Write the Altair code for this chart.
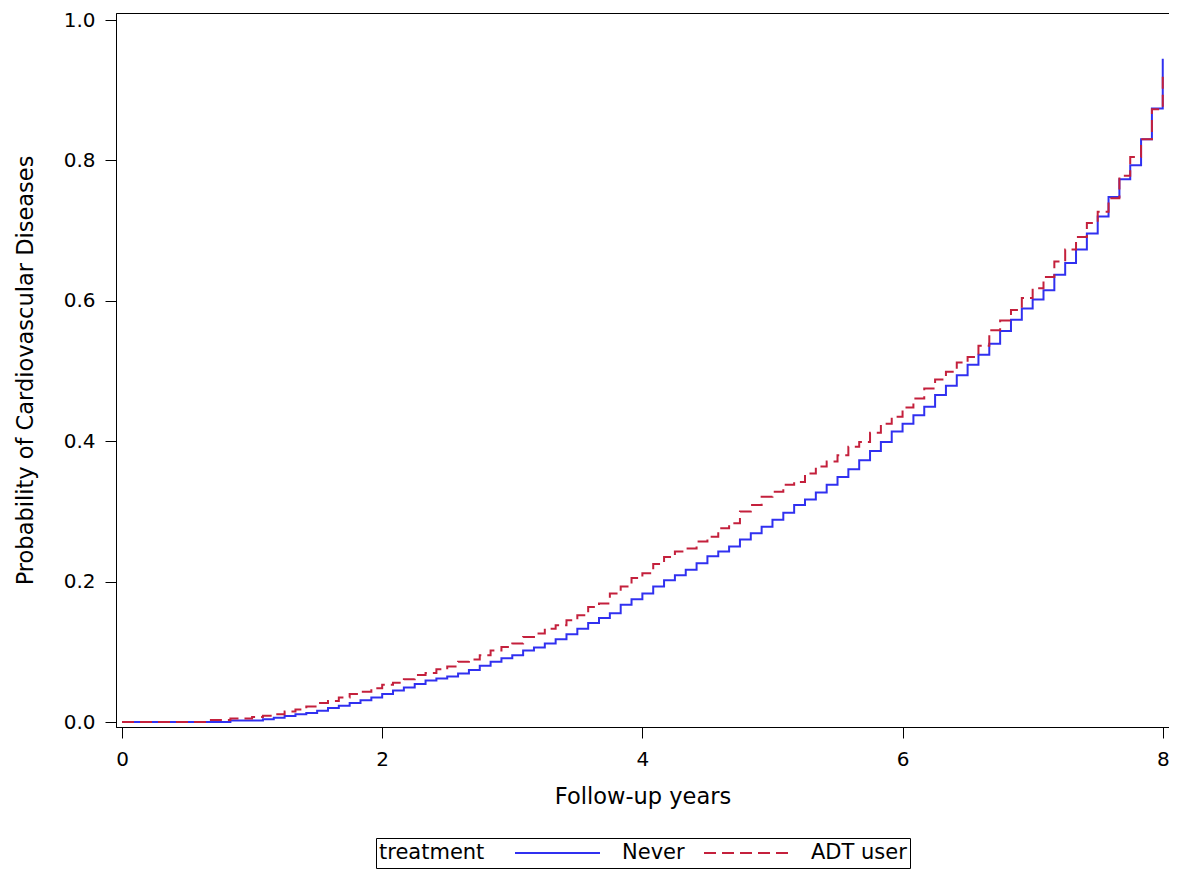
import altair as alt
import pandas as pd

# month index since start of follow-up (steps occur monthly)
months = list(range(97))

never = [
    0, 0, 0, 0, 0, 0, 0, 0, 0, 0,
    0.002, 0.002, 0.002, 0.004, 0.006, 0.0085, 0.011, 0.013, 0.016, 0.020,
    0.023, 0.027, 0.031, 0.035, 0.040, 0.045, 0.049, 0.054, 0.059, 0.062,
    0.065, 0.069, 0.074, 0.080, 0.086, 0.091, 0.095, 0.102, 0.106, 0.112,
    0.118, 0.125, 0.133, 0.141, 0.148, 0.155, 0.167, 0.175, 0.183, 0.193,
    0.202, 0.209, 0.217, 0.226, 0.236, 0.243, 0.250, 0.260, 0.269, 0.278,
    0.288, 0.298, 0.309, 0.317, 0.327, 0.338, 0.349, 0.360, 0.373, 0.386,
    0.399, 0.414, 0.425, 0.437, 0.449, 0.466, 0.479, 0.494, 0.509, 0.523,
    0.539, 0.557, 0.573, 0.589, 0.602, 0.615, 0.637, 0.654, 0.673, 0.696,
    0.720, 0.748, 0.773, 0.793, 0.830, 0.874, 0.945,
]

adt_user = [
    0, 0, 0, 0, 0, 0, 0, 0, 0.003, 0.003,
    0.005, 0.005, 0.007, 0.009, 0.011, 0.015, 0.018, 0.022, 0.027, 0.030,
    0.035, 0.040, 0.043, 0.048, 0.053, 0.056, 0.061, 0.067, 0.070, 0.075,
    0.079, 0.086, 0.089, 0.095, 0.102, 0.107, 0.112, 0.121, 0.126, 0.133,
    0.138, 0.145, 0.152, 0.164, 0.169, 0.183, 0.193, 0.205, 0.212, 0.225,
    0.235, 0.243, 0.247, 0.257, 0.264, 0.276, 0.283, 0.300, 0.309, 0.321,
    0.328, 0.338, 0.342, 0.354, 0.364, 0.371, 0.380, 0.392, 0.399, 0.412,
    0.425, 0.435, 0.448, 0.461, 0.475, 0.488, 0.499, 0.512, 0.520, 0.536,
    0.558, 0.572, 0.587, 0.604, 0.618, 0.634, 0.656, 0.673, 0.691, 0.711,
    0.727, 0.746, 0.778, 0.805, 0.830, 0.873, 0.925,
]

groups = ["Never", "ADT user"]
colors = ["#3030F0", "#C4203C"]
dashes = [[1, 0], [12, 6]]

x_ticks = [0, 2, 4, 6, 8]
y_ticks = [0.0, 0.2, 0.4, 0.6, 0.8, 1.0]

df = pd.concat([
    pd.DataFrame({"month": months, "prob": never, "treatment": "Never"}),
    pd.DataFrame({"month": months, "prob": adt_user, "treatment": "ADT user"}),
], ignore_index=True)

FONT = "DejaVu Sans"

legend = alt.Legend(
    orient="none", legendX=260, legendY=825, direction="horizontal",
    title="treatment", titleOrient="left", titleFontSize=21, titleFontWeight="normal",
    titleFont=FONT, titleColor="black", titlePadding=29, titleBaseline="middle",
    titleAnchor="middle",
    labelFontSize=21, labelFont=FONT, labelColor="black", labelOffset=21,
    symbolType="stroke", symbolSize=7225, symbolStrokeWidth=2, clipHeight=24,
    columnPadding=18, strokeColor="black", padding=3,
)

chart = alt.Chart(df).transform_calculate(
    years="datum.month / 12"
).mark_line(interpolate="step-after", strokeWidth=2).encode(
    x=alt.X("years:Q", title="Follow-up years",
            scale=alt.Scale(domain=[-0.0461, 8.048], nice=False, zero=False),
            axis=alt.Axis(values=x_ticks, format="d")),
    y=alt.Y("prob:Q", title="Probability of Cardiovascular Diseases",
            scale=alt.Scale(domain=[-0.0071, 1.0100], nice=False, zero=False),
            axis=alt.Axis(values=y_ticks, format=".1f")),
    color=alt.Color("treatment:N", scale=alt.Scale(domain=groups, range=colors),
                    legend=legend),
    strokeDash=alt.StrokeDash("treatment:N", scale=alt.Scale(domain=groups, range=dashes),
                              legend=legend),
    order=alt.Order("month:Q"),
).properties(
    width=1053, height=714,
    autosize=alt.AutoSizeParams(type="none"),
    padding={"left": 108, "top": 5, "right": 0, "bottom": 142},
).configure_view(
    stroke="black", strokeWidth=1
).configure_axis(
    grid=False, domainColor="black", domainWidth=1, tickColor="black", tickSize=11,
    tickWidth=1, labelFont=FONT, labelFontSize=20, labelColor="black",
    titleFont=FONT, titleFontSize=22.5, titleFontWeight="normal", titleColor="black",
).configure_axisX(
    labelPadding=11, titlePadding=16
).configure_axisY(
    labelPadding=10, titlePadding=26
)

chart.save("out.html", embed_options={"renderer": "svg", "actions": False})
